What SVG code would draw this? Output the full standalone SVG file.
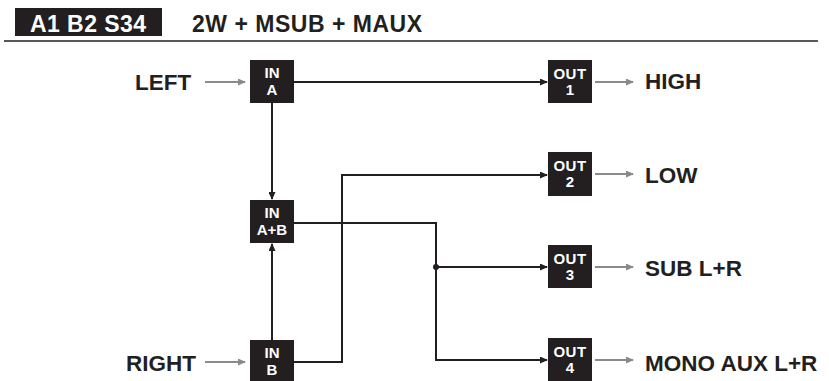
<svg xmlns="http://www.w3.org/2000/svg" width="829" height="381" viewBox="0 0 829 381">
<style>
.box{fill:#231f20}
.bt{font-family:"Liberation Sans",Arial,sans-serif;font-weight:bold;font-size:15px;fill:#fff;text-anchor:middle}
.lbl{font-family:"Liberation Sans",Arial,sans-serif;font-weight:bold;font-size:22.5px;fill:#231f20}
.hdr{font-family:"Liberation Sans",Arial,sans-serif;font-weight:bold;font-size:23px}
.wire{fill:none;stroke:#231f20;stroke-width:2}
.gray{fill:none;stroke:#8a8a8a;stroke-width:2}
</style>
<defs>
<marker id="ab" markerUnits="userSpaceOnUse" markerWidth="8" markerHeight="7" refX="7" refY="3.5" orient="auto"><path d="M0,0 L8,3.5 L0,7 z" fill="#231f20"/></marker>
<marker id="ag" markerUnits="userSpaceOnUse" markerWidth="8" markerHeight="7" refX="7" refY="3.5" orient="auto"><path d="M0,0 L8,3.5 L0,7 z" fill="#8a8a8a"/></marker>
</defs>
<rect width="829" height="381" fill="#fff"/>
<g id="header">
<rect x="15" y="8" width="147" height="28" class="box"/>
<text x="88" y="32" class="hdr" fill="#fff" text-anchor="middle" textLength="116">A1 B2 S34</text>
<text x="192" y="32" class="hdr" fill="#231f20" textLength="230">2W + MSUB + MAUX</text>
<line x1="4" y1="41" x2="818" y2="41" stroke="#231f20" stroke-width="1.5"/>
</g>
<g id="connectors">
<path class="wire" d="M294,82 H547" marker-end="url(#ab)"/>
<path class="wire" d="M272,103 V199" marker-end="url(#ab)"/>
<path class="wire" d="M272,340 V244" marker-end="url(#ab)"/>
<path class="wire" d="M294,362 H342 V175 H547" marker-end="url(#ab)"/>
<path class="wire" d="M294,223 H436 V360 H547" marker-end="url(#ab)"/>
<path class="wire" d="M436,267 H547" marker-end="url(#ab)"/>
<circle cx="436" cy="267" r="3" fill="#231f20"/>
<path class="gray" d="M205,82 H245" marker-end="url(#ag)"/>
<path class="gray" d="M205,362 H245" marker-end="url(#ag)"/>
<path class="gray" d="M595,82 H633" marker-end="url(#ag)"/>
<path class="gray" d="M595,174 H633" marker-end="url(#ag)"/>
<path class="gray" d="M595,267 H633" marker-end="url(#ag)"/>
<path class="gray" d="M595,360 H633" marker-end="url(#ag)"/>
</g>
<g id="left"><text x="135" y="90" class="lbl">LEFT</text></g>
<g id="right"><text x="126" y="371" class="lbl">RIGHT</text></g>
<g id="inA"><rect x="250" y="60" width="44" height="43" class="box"/><text x="272" y="78" class="bt">IN</text><text x="272" y="95" class="bt">A</text></g>
<g id="inAB"><rect x="250" y="200" width="44" height="43" class="box"/><text x="272" y="218" class="bt">IN</text><text x="272" y="235" class="bt">A+B</text></g>
<g id="inB"><rect x="250" y="340" width="44" height="43" class="box"/><text x="272" y="358" class="bt">IN</text><text x="272" y="375" class="bt">B</text></g>
<g id="out1"><rect x="548" y="60" width="44" height="43" class="box"/><text x="570" y="79" class="bt" letter-spacing="0.5">OUT</text><text x="570" y="95" class="bt">1</text></g>
<g id="out2"><rect x="548" y="152" width="44" height="44" class="box"/><text x="570" y="171" class="bt" letter-spacing="0.5">OUT</text><text x="570" y="187" class="bt">2</text></g>
<g id="out3"><rect x="548" y="245" width="44" height="43" class="box"/><text x="570" y="264" class="bt" letter-spacing="0.5">OUT</text><text x="570" y="280" class="bt">3</text></g>
<g id="out4"><rect x="548" y="338" width="44" height="43" class="box"/><text x="570" y="357" class="bt" letter-spacing="0.5">OUT</text><text x="570" y="373" class="bt">4</text></g>
<g id="high"><text x="645" y="89" class="lbl">HIGH</text></g>
<g id="low"><text x="645" y="183" class="lbl">LOW</text></g>
<g id="sub"><text x="645" y="276" class="lbl">SUB L+R</text></g>
<g id="mono"><text x="645" y="371" class="lbl">MONO AUX L+R</text></g>
</svg>
